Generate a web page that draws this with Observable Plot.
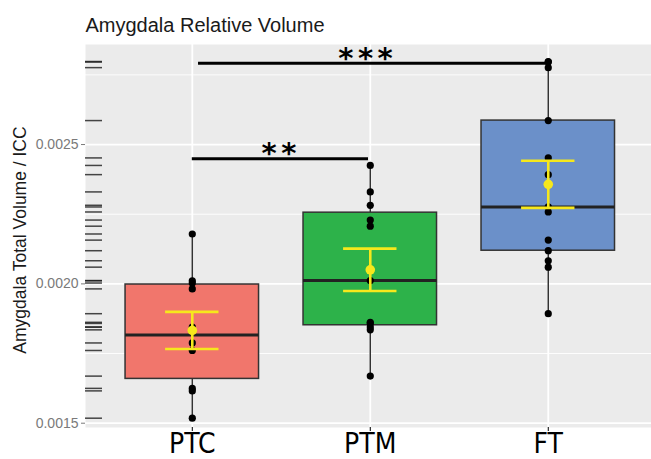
<!DOCTYPE html>
<html><head><meta charset="utf-8">
<script src="https://cdn.jsdelivr.net/npm/d3@7"></script>
<script src="https://cdn.jsdelivr.net/npm/@observablehq/plot@0.6"></script>
<style>
html,body{margin:0;padding:0;background:#fff;overflow:hidden;}
</style></head><body><div id="chart"></div>
<script>
const title = "Amygdala Relative Volume";
const yTitle = "Amygdala Total Volume / ICC";
const groups = ["PTC", "PTM", "FT"];
const colors = ["#F1766C", "#2DB24A", "#6B90C9"];
const PTC = [0.002179, 0.002011, 0.002003, 0.001982, 0.001845, 0.001788, 0.001761, 0.001625, 0.001616, 0.001518];
const PTM = [0.002425, 0.002330, 0.002282, 0.002229, 0.002207, 0.002012, 0.001862, 0.001858, 0.001845, 0.001835, 0.001669];
const FT  = [0.002798, 0.002796, 0.002776, 0.002586, 0.002452, 0.002392, 0.002276, 0.002258, 0.002157, 0.002119, 0.002083, 0.002060, 0.001893];
const yTicks = [0.0015, 0.0020, 0.0025];
const yMinor = [0.00175, 0.00225, 0.00275];
const brackets = [
  {x1: 1, x2: 1.99, xLabel: 1.487, y: 0.002449, label: "**"},
  {x1: 1.035, x2: 3, xLabel: 1.973, y: 0.002792, label: "***"}
];

const series = [PTC, PTM, FT];
const pts = series.flatMap((v, i) => v.map(y => ({g: groups[i], x: i + 1, y})));
const stats = series.map((v, i) => {
  const s = v.slice().sort(d3.ascending);
  const q1 = d3.quantile(s, 0.25), med = d3.quantile(s, 0.5), q3 = d3.quantile(s, 0.75);
  const iqr = q3 - q1;
  const lo = d3.min(s.filter(d => d >= q1 - 1.5 * iqr));
  const hi = d3.max(s.filter(d => d <= q3 + 1.5 * iqr));
  const mean = d3.mean(s), se = d3.deviation(s) / Math.sqrt(s.length);
  return {g: groups[i], x: i + 1, q1, med, q3, lo, hi, mean, se, color: colors[i]};
});

const X0 = 0.4, X1 = 3.58;
const hw = 0.375, ew = 0.15;
const yellow = "#F6E81C";

const plot = Plot.plot({
  width: 651, height: 459,
  marginLeft: 85, marginRight: 0, marginTop: 44, marginBottom: 32,
  style: {fontFamily: "'Liberation Sans', Arial, sans-serif", background: "#fff", overflow: "hidden"},
  x: {domain: [X0, X1], axis: null},
  y: {domain: [0.0014846, 0.002859], axis: null},
  color: {type: "identity"},
  marks: [
    Plot.frame({fill: "#EBEBEB", stroke: "none"}),
    Plot.ruleY(yMinor, {stroke: "#fff", strokeWidth: 0.9}),
    Plot.ruleY(yTicks, {stroke: "#fff", strokeWidth: 1.8}),
    Plot.ruleX(stats, {x: "x", stroke: "#fff", strokeWidth: 1.8}),
    Plot.ruleY(pts, {y: "y", x1: X0, x2: X0 + 0.03 * (X1 - X0), stroke: "#1a1a1a", strokeOpacity: 0.8, strokeWidth: 1.5}),
    Plot.ruleX(stats, {x: "x", y1: "q3", y2: "hi", stroke: "#333", strokeWidth: 1.5}),
    Plot.ruleX(stats, {x: "x", y1: "q1", y2: "lo", stroke: "#333", strokeWidth: 1.5}),
    Plot.rect(stats, {x1: d => d.x - hw, x2: d => d.x + hw, y1: "q1", y2: "q3", fill: "color", stroke: "#333", strokeWidth: 1.5}),
    Plot.ruleY(stats, {y: "med", x1: d => d.x - hw, x2: d => d.x + hw, stroke: "#222", strokeWidth: 3}),
    Plot.dot(pts, {x: "x", y: "y", r: 3.6, fill: "#000", stroke: "none"}),
    Plot.ruleX(stats, {x: "x", y1: d => d.mean - d.se, y2: d => d.mean + d.se, stroke: yellow, strokeWidth: 2.6}),
    Plot.ruleY(stats, {y: d => d.mean - d.se, x1: d => d.x - ew, x2: d => d.x + ew, stroke: yellow, strokeWidth: 2.6}),
    Plot.ruleY(stats, {y: d => d.mean + d.se, x1: d => d.x - ew, x2: d => d.x + ew, stroke: yellow, strokeWidth: 2.6}),
    Plot.dot(stats, {x: "x", y: "mean", r: 4.8, fill: yellow, stroke: "none"}),
    Plot.ruleY(brackets, {y: "y", x1: "x1", x2: "x2", stroke: "#000", strokeWidth: 3}),
    Plot.text(brackets, {x: "xLabel", y: "y", text: "label", lineAnchor: "bottom", dy: 4.5, dx: 2.25, fontSize: 29, fontWeight: "bold", fontFamily: "'DejaVu Sans', sans-serif", fill: "#000"}),
    Plot.axisY({ticks: yTicks, tickFormat: d3.format(".4f"), tickSize: 4, tickPadding: 3, fontSize: 14, color: "#7a7a7a", label: null}),
    Plot.axisX({ticks: [1, 2, 3], tickFormat: d => groups[d - 1], tickSize: 4, tickPadding: 2, fontSize: 28, fontFamily: "'Liberation Sans Narrow', 'DejaVu Sans Condensed', sans-serif", color: "#000", label: null}),
    Plot.text([title], {frameAnchor: "top-left", dy: -13, lineAnchor: "bottom", textAnchor: "start", fontSize: 20, fill: "#1a1a1a"}),
    Plot.text([yTitle], {frameAnchor: "left", dx: -59.5, dy: 4, rotate: -90, textAnchor: "middle", lineAnchor: "bottom", fontSize: 17.5, fill: "#1a1a1a"})
  ]
});
d3.select(plot).selectAll("text").filter(function() { return /^\*+$/.test(this.textContent); }).attr("letter-spacing", 4.5);
document.getElementById("chart").appendChild(plot);
</script></body></html>
